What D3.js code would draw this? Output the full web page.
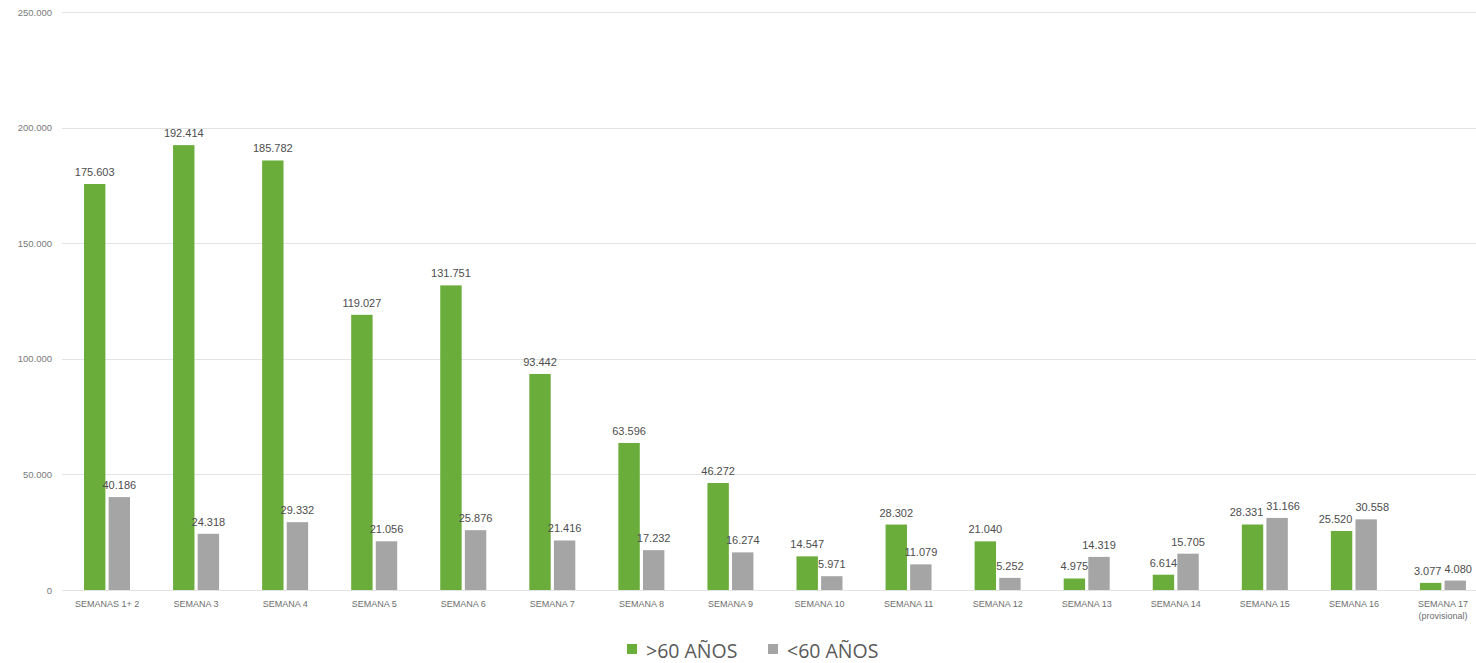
<!DOCTYPE html>
<html><head><meta charset="utf-8">
<script src="https://cdn.jsdelivr.net/npm/d3@7"></script>
<style>body{margin:0;background:#fff;overflow:hidden}svg{display:block}</style>
</head><body><svg id="c" width="1476" height="663"></svg>
<script>
const categories = ["SEMANAS 1+ 2","SEMANA 3","SEMANA 4","SEMANA 5","SEMANA 6","SEMANA 7","SEMANA 8","SEMANA 9","SEMANA 10","SEMANA 11","SEMANA 12","SEMANA 13","SEMANA 14","SEMANA 15","SEMANA 16","SEMANA 17\n(provisional)"];
const over60 = [175603,192414,185782,119027,131751,93442,63596,46272,14547,28302,21040,4975,6614,28331,25520,3077];
const under60 = [40186,24318,29332,21056,25876,21416,17232,16274,5971,11079,5252,14319,15705,31166,30558,4080];
const seriesNames = [">60 AÑOS","<60 AÑOS"];
const seriesColors = ["#6aad3a","#a5a5a5"];
const yTicks = [0,50000,100000,150000,200000,250000];

const svg = d3.select("#c");
const fmt = v => v === 0 ? "0" : d3.format(",")(v).replace(/,/g, ".");
const x0 = d3.scaleBand().domain(categories).range([62.5, 1487.5]).paddingInner(0).paddingOuter(0);
const x1 = d3.scaleBand().domain([0,1]).range([21.5, 67.5]).paddingInner(0.13);
const y = d3.scaleLinear().domain([0,250000]).range([590, 12]);

// gridlines
svg.append("g").selectAll("line").data(yTicks).join("line")
  .attr("x1", 62).attr("x2", 1476)
  .attr("y1", d => Math.round(y(d)) + 0.5).attr("y2", d => Math.round(y(d)) + 0.5)
  .attr("stroke", "#e3e3e3").attr("stroke-width", 1);

// y labels
svg.append("g").selectAll("text").data(yTicks).join("text")
  .attr("x", 52).attr("y", d => y(d) + 3.5)
  .attr("text-anchor", "end").attr("font-family", "Liberation Sans, Arial, sans-serif")
  .attr("font-size", 9.5).attr("fill", "#7a7a7a").text(fmt);

const data = categories.map((c, i) => ({c, vals: [over60[i], under60[i]]}));
const groups = svg.append("g").selectAll("g").data(data).join("g")
  .attr("transform", d => `translate(${x0(d.c)},0)`);
groups.selectAll("rect").data(d => d.vals.map((v, k) => ({v, k}))).join("rect")
  .attr("x", d => x1(d.k)).attr("width", x1.bandwidth())
  .attr("y", d => y(d.v)).attr("height", d => y(0) - y(d.v))
  .attr("fill", d => seriesColors[d.k]);
groups.each(function() {
  const g = d3.select(this);
  const labels = g.selectAll("text.val").data(d => d.vals.map((v, k) => ({v, k}))).join("text")
    .attr("class", "val")
    .attr("x", d => x1(d.k) + x1.bandwidth() / 2).attr("y", d => y(d.v) - 8)
    .attr("text-anchor", "middle").attr("font-family", "Liberation Sans, Arial, sans-serif")
    .attr("font-size", 11).attr("fill", "#4d4d4d").text(d => fmt(d.v));
  const nodes = labels.nodes();
  const b0 = nodes[0].getBBox(), b1 = nodes[1].getBBox();
  const vOverlap = !(b0.y + b0.height < b1.y || b1.y + b1.height < b0.y);
  const gap = b1.x - (b0.x + b0.width);
  if (vOverlap && gap < 3) {
    const s = (3 - gap) / 2;
    d3.select(nodes[0]).attr("x", +d3.select(nodes[0]).attr("x") - s);
    d3.select(nodes[1]).attr("x", +d3.select(nodes[1]).attr("x") + s);
  }
});

// x labels
const xl = svg.append("g").selectAll("text").data(categories).join("text")
  .attr("x", d => x0(d) + x0.bandwidth() / 2).attr("y", 607)
  .attr("text-anchor", "middle").attr("font-family", "Liberation Sans, Arial, sans-serif")
  .attr("font-size", 9).attr("fill", "#6e6e6e");
xl.each(function(d) {
  const lines = d.split("\n");
  d3.select(this).selectAll("tspan").data(lines).join("tspan")
    .attr("x", x0(d) + x0.bandwidth() / 2).attr("dy", (l, i) => i ? 12 : 0).text(l => l);
});

// legend
const leg = svg.append("g");
const legX = [627, 768];
seriesNames.forEach((n, i) => {
  leg.append("rect").attr("x", legX[i]).attr("y", 644).attr("width", 10).attr("height", 10).attr("fill", seriesColors[i]);
  leg.append("text").attr("x", legX[i] + 19).attr("y", 658)
    .attr("font-family", "Open Sans, Liberation Sans, sans-serif").attr("font-size", 19.5)
    .attr("fill", "#595959").text(n);
});
</script></body></html>
